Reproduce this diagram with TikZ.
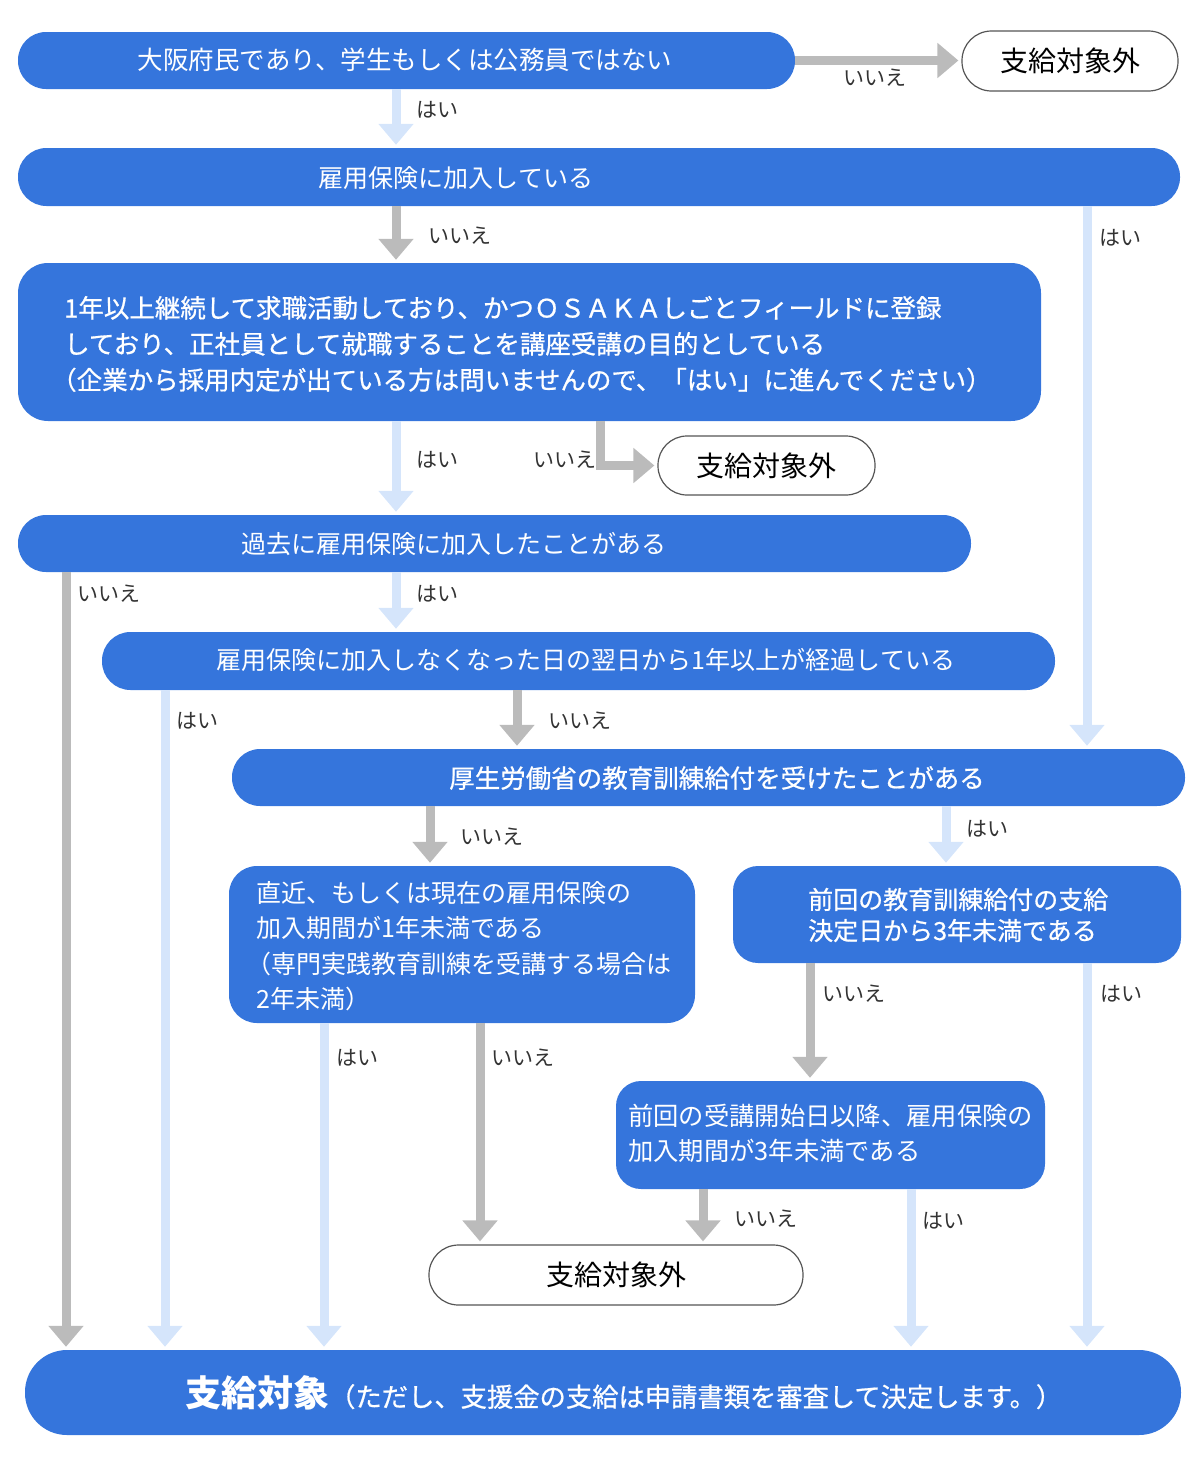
\documentclass[tikz,border=0pt]{standalone}
\usepackage{fontspec}
\setmainfont{Noto Sans CJK JP}
\newfontfamily\jpmed{Noto Sans CJK JP}[FakeBold=0.7]
\usetikzlibrary{arrows.meta}
\definecolor{boxblue}{HTML}{3575DC}
\definecolor{arrgray}{HTML}{BBBBBB}
\definecolor{arrlight}{HTML}{D5E5FB}
\definecolor{edgegray}{HTML}{555555}
\definecolor{labgray}{HTML}{333333}
\tikzset{
  bx/.style={fill=boxblue, draw=none, inner sep=0pt},
  exbox/.style={fill=white, draw=edgegray, line width=1.2pt, inner sep=0pt,
    font=\fontsize{28}{30}\selectfont, text=black},
  txt/.style={text=white, inner sep=0pt, font=\fontsize{25}{35}\selectfont},
  lab/.style={text=labgray, inner sep=0pt, anchor=west, font=\fontsize{21}{22}\selectfont},
  garrow/.style={draw=arrgray, line width=9pt, shorten >=3pt,
    -{Triangle[width=34pt,length=21pt]}},
  larrow/.style={draw=arrlight, line width=9pt, shorten >=3pt,
    -{Triangle[width=34pt,length=21pt]}},
}
\begin{document}
\begin{tikzpicture}[x=1pt,y=-1pt]
\useasboundingbox (0,0) rectangle (1200,1457);
% column coordinates
\coordinate (c66) at (66,0);
\coordinate (c165) at (165,0);
\coordinate (c324) at (324,0);
\coordinate (c396) at (396,0);
\coordinate (c430) at (430,0);
\coordinate (c480) at (480,0);
\coordinate (c517) at (517,0);
\coordinate (c600) at (600,0);
\coordinate (c703) at (703,0);
\coordinate (c810) at (810,0);
\coordinate (c911) at (911,0);
\coordinate (c946) at (946,0);
\coordinate (c1087) at (1087,0);
% boxes
\node[bx, minimum width=777pt, minimum height=57pt, rounded corners=28pt] (b1) at (406.5,60.5) {};
\node[exbox, minimum width=216pt, minimum height=60pt, rounded corners=29.5pt] (x1) at (1070,61) {支給対象外};
\node[bx, minimum width=1162pt, minimum height=58pt, rounded corners=28.5pt] (b2) at (599,177) {};
\node[bx, minimum width=1023pt, minimum height=158pt, rounded corners=30pt] (b3) at (529.5,342) {};
\node[exbox, minimum width=217pt, minimum height=59pt, rounded corners=29pt] (x2) at (766.5,465.5) {支給対象外};
\node[bx, minimum width=953pt, minimum height=57pt, rounded corners=28pt] (b4) at (494.5,543.5) {};
\node[bx, minimum width=953pt, minimum height=58pt, rounded corners=28.5pt] (b5) at (578.5,661) {};
\node[bx, minimum width=953pt, minimum height=57pt, rounded corners=28pt] (b6) at (708.5,777.5) {};
\node[bx, minimum width=466pt, minimum height=157pt, rounded corners=28pt] (b7) at (462,944.5) {};
\node[bx, minimum width=448pt, minimum height=97pt, rounded corners=25pt] (b8) at (957,914.5) {};
\node[bx, minimum width=429pt, minimum height=108pt, rounded corners=25pt] (b9) at (830.5,1135) {};
\node[exbox, minimum width=374pt, minimum height=60pt, rounded corners=29.5pt] (x3) at (616,1275) {支給対象外};
\node[bx, minimum width=1156pt, minimum height=85pt, rounded corners=42pt] (bf) at (603,1392.5) {};
% texts
\node[txt, font=\fontsize{25.5}{35}\selectfont] (t1) at (405,60) {大阪府民であり、学生もしくは公務員ではない};
\node[txt] (t2) at (456,178) {雇用保険に加入している};
\node[txt, anchor=west, align=left, font=\jpmed\fontsize{25.5}{36}\selectfont] (t3) at (64,344)
  {1年以上継続して求職活動しており、かつＯＳＡＫＡしごとフィールドに登録\\
   しており、正社員として就職することを講座受講の目的としている\\
   \kern-13pt（企業から採用内定が出ている方は問いませんので、「はい」に進んでください）};
\node[txt] (t4) at (454,544) {過去に雇用保険に加入したことがある};
\node[txt] (t5) at (586,660) {雇用保険に加入しなくなった日の翌日から1年以上が経過している};
\node[txt, font=\jpmed\fontsize{25.5}{35}\selectfont] (t6) at (717,778) {厚生労働省の教育訓練給付を受けたことがある};
\node[txt, anchor=west, align=left, font=\fontsize{25}{35.5}\selectfont] (t7) at (256,946)
  {直近、もしくは現在の雇用保険の\\加入期間が1年未満である\\\kern-10pt（専門実践教育訓練を受講する場合は\\2年未満）};
\node[txt, anchor=west, align=left, font=\jpmed\fontsize{25}{31}\selectfont] (t8) at (808,915)
  {前回の教育訓練給付の支給\\決定日から3年未満である};
\node[txt, anchor=west, align=left, font=\fontsize{25.3}{35}\selectfont] (t9) at (628,1133)
  {前回の受講開始日以降、雇用保険の\\加入期間が3年未満である};
\node[txt, anchor=west] (tf) at (185,1393)
  {{\fontsize{36}{36}\selectfont\bfseries 支給対象}{\jpmed\fontsize{26.3}{30}\selectfont （ただし、支援金の支給は申請書類を審査して決定します。）}};
% connectors
\draw[garrow] (b1.east) -- (x1.west |- b1.east);
\draw[larrow] (c396 |- b1.south) -- (c396 |- b2.north);
\draw[garrow] (c396 |- b2.south) -- (c396 |- b3.north);
\draw[larrow] (c1087 |- b2.south) -- (c1087 |- b6.north);
\draw[larrow] (c396 |- b3.south) -- (c396 |- b4.north);
\draw[garrow] (c600 |- b3.south) |- (x2.west);
\draw[garrow] (c66 |- b4.south) -- (c66 |- bf.north);
\draw[larrow] (c396 |- b4.south) -- (c396 |- b5.north);
\draw[larrow] (c165 |- b5.south) -- (c165 |- bf.north);
\draw[garrow] (c517 |- b5.south) -- (c517 |- b6.north);
\draw[garrow] (c430 |- b6.south) -- (c430 |- b7.north);
\draw[larrow] (c946 |- b6.south) -- (c946 |- b8.north);
\draw[larrow] (c324 |- b7.south) -- (c324 |- bf.north);
\draw[garrow] (c480 |- b7.south) -- (c480 |- x3.north);
\draw[garrow] (c810 |- b8.south) -- (c810 |- b9.north);
\draw[larrow] (c1087 |- b8.south) -- (c1087 |- bf.north);
\draw[garrow] (c703 |- b9.south) -- (c703 |- x3.north);
\draw[larrow] (c911 |- b9.south) -- (c911 |- bf.north);
% labels
\node[lab] (l1) at (843,78) {いいえ};
\node[lab] (l2) at (416,110) {はい};
\node[lab] (l3) at (428,236) {いいえ};
\node[lab] (l4) at (1099,238) {はい};
\node[lab] (l5) at (416,460) {はい};
\node[lab] (l6) at (533,460) {いいえ};
\node[lab] (l7) at (77,594) {いいえ};
\node[lab] (l8) at (416,594) {はい};
\node[lab] (l9) at (176,721) {はい};
\node[lab] (l10) at (548,721) {いいえ};
\node[lab] (l11) at (460,837) {いいえ};
\node[lab] (l12) at (966,829) {はい};
\node[lab] (l13) at (336,1058) {はい};
\node[lab] (l14) at (491,1058) {いいえ};
\node[lab] (l15) at (822,994) {いいえ};
\node[lab] (l16) at (1100,994) {はい};
\node[lab] (l17) at (734,1219) {いいえ};
\node[lab] (l18) at (922,1221) {はい};
\end{tikzpicture}
\end{document}
